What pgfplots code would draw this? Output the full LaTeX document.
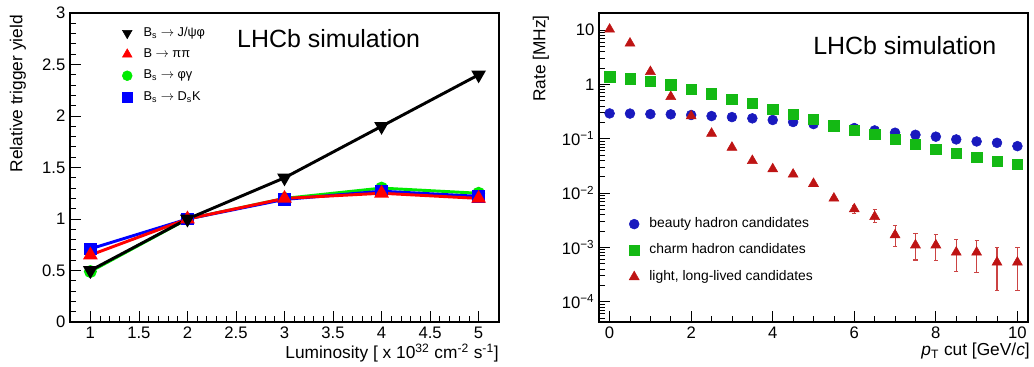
\documentclass[border=0pt]{standalone}
\usepackage{pgfplots}
\pgfplotsset{compat=1.18}
\usepackage{fontspec}
\setmainfont{Liberation Sans}
\definecolor{lgreen}{RGB}{0,235,0}
\definecolor{lblue}{RGB}{0,0,255}
\definecolor{lred}{RGB}{255,0,0}
\definecolor{rblue}{RGB}{25,25,190}
\definecolor{rgreen}{RGB}{20,185,20}
\definecolor{rred}{RGB}{190,20,20}
\newcommand{\arr}{ $\rightarrow$ }

\pgfplotstableread{
x y
1 0.50
2 1.00
3 1.40
4 1.90
5 2.40
}\tjpsi
\pgfplotstableread{
x y
1 0.65
2 1.00
3 1.20
4 1.25
5 1.20
}\tpipi
\pgfplotstableread{
x y
1 0.49
2 1.00
3 1.20
4 1.30
5 1.25
}\tphig
\pgfplotstableread{
x y
1 0.71
2 1.00
3 1.19
4 1.27
5 1.22
}\tdsk

\pgfplotstableread{
x y
0 0.292
0.5 0.290
1 0.284
1.5 0.281
2 0.273
2.5 0.261
3 0.250
3.5 0.237
4 0.221
4.5 0.203
5 0.186
5.5 0.171
6 0.157
6.5 0.142
7 0.129
7.5 0.118
8 0.109
8.5 0.097
9 0.089
9.5 0.084
10 0.073
}\tbeauty
\pgfplotstableread{
x y
0 1.38
0.5 1.27
1 1.13
1.5 0.99
2 0.81
2.5 0.67
3 0.53
3.5 0.447
4 0.347
4.5 0.281
5 0.227
5.5 0.173
6 0.142
6.5 0.120
7 0.097
7.5 0.0787
8 0.0637
8.5 0.0537
9 0.0453
9.5 0.0383
10 0.0337
}\tcharm
\pgfplotstableread{
x y ep em
0 10.3 0 0
0.5 5.7 0 0
1 1.71 0 0
1.5 0.593 0 0
2 0.261 0 0
2.5 0.125 0 0
3 0.069 0 0
3.5 0.0394 0 0
4 0.0277 0 0
4.5 0.0221 0 0
5 0.0149 0 0
5.5 0.0080 0 0
6 0.00508 0.0009 0.0009
6.5 0.00367 0.0013 0.00083
7 0.00169 0.00082 0.00066
7.5 0.00110 0.00071 0.000515
8 0.00110 0.00063 0.00053
8.5 0.00081 0.00059 0.000454
9 0.00081 0.00055 0.00046
9.5 0.00053 0.00046 0.00037
10 0.00053 0.00046 0.00037
}\tlight

\begin{document}
\begin{tikzpicture}
\useasboundingbox (0,0) rectangle (775.5pt,275.25pt);
\pgfplotsset{
  rootstyle/.style={
    scale only axis, width=321.75pt, height=231.75pt,
    anchor=south west,
    axis line style={line width=0.8pt},
    tick align=inside,
    xtick pos=bottom, ytick pos=left,
    major tick length=8.5pt, minor tick length=4.5pt,
    every tick/.style={black, line width=0.6pt},
    ticklabel style={font=\fontsize{12.5}{14}\selectfont},
    /pgf/number format/assume math mode=true,
    legend image code/.code={\draw[##1] plot coordinates {(0pt,0pt)};},
  }
}
\begin{axis}[rootstyle, name=L, at={(52.5pt,33.75pt)},
  xmin=0.79, xmax=5.21, ymin=0, ymax=3,
  xtick={1,1.5,2,2.5,3,3.5,4,4.5,5},
  ytick={0,0.5,1,1.5,2,2.5,3},
  minor x tick num=4, minor y tick num=4,
  legend style={at={(rel axis cs:0.112,0.965)}, anchor=north west,
    draw=none, fill=none, font=\fontsize{9.6}{11}\selectfont,
    row sep=6.5pt, column sep=8pt,
    nodes={inner sep=0.5pt, text height=6.5pt, text depth=2pt}},
  legend cell align=left,
]
\addlegendimage{only marks, mark=triangle*, mark size=4.2pt, mark options={rotate=180, fill=black, draw=black}}
\addlegendentry{B\textsubscript{s}\arr J/ψφ}
\addlegendimage{only marks, mark=triangle*, mark size=4.2pt, mark options={fill=lred, draw=lred}}
\addlegendentry{B\arr ππ}
\addlegendimage{only marks, mark=*, mark size=3.7pt, mark options={fill=lgreen, draw=lgreen}}
\addlegendentry{B\textsubscript{s}\arr φγ}
\addlegendimage{only marks, mark=square*, mark size=3.6pt, mark options={fill=lblue, draw=lblue}}
\addlegendentry{B\textsubscript{s}\arr D\textsubscript{s}K}
\addplot[forget plot, lgreen, line width=2.2pt, mark=*, mark size=3.7pt, mark options={fill=lgreen, draw=lgreen}] table {\tphig};
\addplot[forget plot, lblue, line width=2.2pt, mark=square*, mark size=3.6pt, mark options={fill=lblue, draw=lblue}] table {\tdsk};
\addplot[forget plot, lred, line width=2.2pt, mark=triangle*, mark size=4.2pt, mark options={fill=lred, draw=lred}] table {\tpipi};
\addplot[forget plot, black, line width=2.2pt, mark=triangle*, mark size=4.2pt, mark options={rotate=180, fill=black, draw=black}] table {\tjpsi};
\node[anchor=west, inner sep=0pt, font=\fontsize{18.7}{20}\selectfont] at (rel axis cs:0.389,0.916) {LHCb simulation};
\end{axis}

\begin{axis}[rootstyle, name=R, at={(449.25pt,33.75pt)},
  ymode=log,
  xmin=-0.26, xmax=10.26, ymin=4.23e-5, ymax=20.6,
  xtick={0,2,4,6,8,10}, minor x tick num=3,
  ytick={1e-4,1e-3,1e-2,1e-1,1,10},
  yticklabels={10\textsuperscript{−4},10\textsuperscript{−3},10\textsuperscript{−2},10\textsuperscript{−1},1,10},
  minor ytick={5e-5,6e-5,7e-5,8e-5,9e-5,2e-4,3e-4,4e-4,5e-4,6e-4,7e-4,8e-4,9e-4,2e-3,3e-3,4e-3,5e-3,6e-3,7e-3,8e-3,9e-3,2e-2,3e-2,4e-2,5e-2,6e-2,7e-2,8e-2,9e-2,0.2,0.3,0.4,0.5,0.6,0.7,0.8,0.9,2,3,4,5,6,7,8,9,20},
  legend style={at={(rel axis cs:0.06,0.35)}, anchor=north west,
    draw=none, fill=none, font=\fontsize{10.4}{12}\selectfont,
    row sep=8.8pt, column sep=7pt,
    nodes={inner sep=0.5pt, text height=7.5pt, text depth=2.5pt}},
  legend cell align=left,
]
\addlegendimage{only marks, mark=*, mark size=3.7pt, mark options={fill=rblue, draw=rblue}}
\addlegendentry{beauty hadron candidates}
\addlegendimage{only marks, mark=square*, mark size=3.9pt, mark options={fill=rgreen, draw=rgreen}}
\addlegendentry{charm hadron candidates}
\addlegendimage{only marks, mark=triangle*, mark size=4.3pt, mark options={fill=rred, draw=rred}}
\addlegendentry{light, long-lived candidates}
\addplot[forget plot, only marks, mark=*, mark size=3.7pt, mark options={fill=rblue, draw=rblue}] table {\tbeauty};
\addplot[forget plot, only marks, rred, mark=triangle*, mark size=4.3pt, mark options={fill=rred, draw=rred},
  error bars/.cd, y dir=both, y explicit,
  error bar style={line width=0.8pt, rred!80},
  error mark options={rotate=90, mark size=1.6pt, line width=0.8pt, rred!80}]
  table[x=x, y=y, y error plus=ep, y error minus=em] {\tlight};
\addplot[forget plot, only marks, mark=square*, mark size=3.9pt, mark options={fill=rgreen, draw=rgreen}] table {\tcharm};
\node[anchor=west, inner sep=0pt, font=\fontsize{18.7}{20}\selectfont] at (rel axis cs:0.499,0.896) {LHCb simulation};
\end{axis}

\node[rotate=90, anchor=east, inner sep=0pt, font=\fontsize{13}{15}\selectfont] at ([xshift=-39pt,yshift=-1.5pt]L.north west) {Relative trigger yield};
\node[anchor=base east, inner sep=0pt, font=\fontsize{13}{15}\selectfont] at ([yshift=-27.5pt]L.south east) {Luminosity [ x 10\textsuperscript{32} cm\textsuperscript{-2} s\textsuperscript{-1}]};
\node[rotate=90, anchor=east, inner sep=0pt, font=\fontsize{13}{15}\selectfont] at ([xshift=-43.5pt,yshift=-1.5pt]R.north west) {Rate [MHz]};
\node[anchor=base east, inner sep=0pt, font=\fontsize{13}{15}\selectfont] at ([xshift=1.5pt,yshift=-25pt]R.south east) {\textit{p}\textsubscript{T} cut [GeV/\textit{c}]};
\end{tikzpicture}
\end{document}
